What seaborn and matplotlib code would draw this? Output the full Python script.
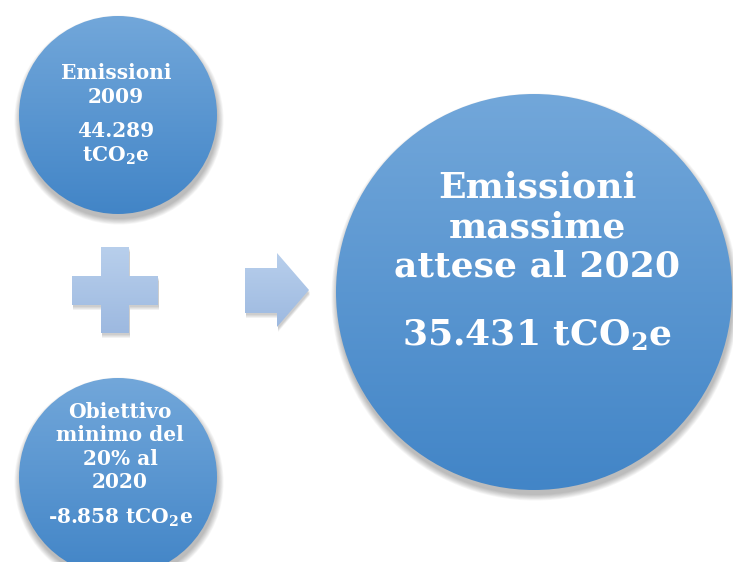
import matplotlib
matplotlib.use("Agg")
import matplotlib.pyplot as plt
import matplotlib.patches as mpatches
import numpy as np
import seaborn as sns

# testi dei cerchi
titoli = ["Emissioni\n2009", "Obiettivo\nminimo del\n20% al\n2020", "Emissioni\nmassime\nattese al 2020"]
valori = ["44.289\ntCO$_\\mathbf{2}$e", "-8.858 tCO$_\\mathbf{2}$e", "35.431 tCO$_\\mathbf{2}$e"]

sns.set_theme(style="white")
plt.rcParams["font.family"] = ["DejaVu Serif"]
plt.rcParams["mathtext.fontset"] = "dejavuserif"

fig = plt.figure(figsize=(7.33, 5.62), dpi=100)
ax = fig.add_axes([0, 0, 1, 1])
ax.set_xlim(0, 733)
ax.set_ylim(562, 0)
ax.set_aspect("equal")
ax.axis("off")

top_col = np.array([0x72, 0xa7, 0xda]) / 255
bot_col = np.array([0x42, 0x85, 0xc7]) / 255


def gradient(patch, x0, x1, y0, y1, c_top, c_bot, z):
    t = np.linspace(0, 1, 200)[:, None, None]
    img = c_top * (1 - t) + c_bot * t
    im = ax.imshow(img, extent=(x0, x1, y1, y0), aspect="auto", zorder=z)
    im.set_clip_path(patch)


def cerchio(cx, cy, r):
    # ombra morbida
    for k in range(8):
        ax.add_patch(mpatches.Circle((cx + 1, cy + 5), r + k * 0.8, color="black", alpha=0.035, lw=0, zorder=1))
    c = mpatches.Circle((cx, cy), r, facecolor="none", edgecolor="none", zorder=2)
    ax.add_patch(c)
    gradient(c, cx - r, cx + r, cy - r, cy + r, top_col, bot_col, 2)


cerchio(118, 115, 99)
cerchio(118, 477, 99)
cerchio(534, 292, 198)

# croce e freccia
lt = np.array([0xb8, 0xcf, 0xec]) / 255
lb = np.array([0x9d, 0xb9, 0xe0]) / 255
croce = [(101, 247), (129, 247), (129, 276), (158, 276), (158, 305), (129, 305), (129, 333),
         (101, 333), (101, 305), (72, 305), (72, 276), (101, 276)]
freccia = [(245, 268), (277, 268), (277, 253), (309, 290), (277, 327), (277, 313), (245, 313)]
for pts, box in [(croce, (72, 158, 247, 333)), (freccia, (245, 309, 253, 327))]:
    for k in range(4):
        sh = mpatches.Polygon([(x + 1, y + 2 + k) for x, y in pts], closed=True, color="black",
                              alpha=0.05, lw=0, zorder=1)
        ax.add_patch(sh)
    p = mpatches.Polygon(pts, closed=True, facecolor="none", edgecolor="none", zorder=2)
    ax.add_patch(p)
    gradient(p, box[0], box[1], box[2], box[3], lt, lb, 2)

kw = dict(color="white", fontweight="bold", ha="center", va="center", zorder=5)
ax.text(116, 85, titoli[0], fontsize=14.5, linespacing=1.2, **kw)
ax.text(116, 144, valori[0], fontsize=14.5, linespacing=1.2, **kw)
ax.text(120, 447, titoli[1], fontsize=14.5, linespacing=1.2, **kw)
ax.text(120, 518, valori[1], fontsize=14.5, **kw)
ax.text(537, 227, titoli[2], fontsize=26, linespacing=1.2, **kw)
ax.text(537, 335, valori[2], fontsize=26, **kw)

fig.savefig("out.png", dpi=100)
